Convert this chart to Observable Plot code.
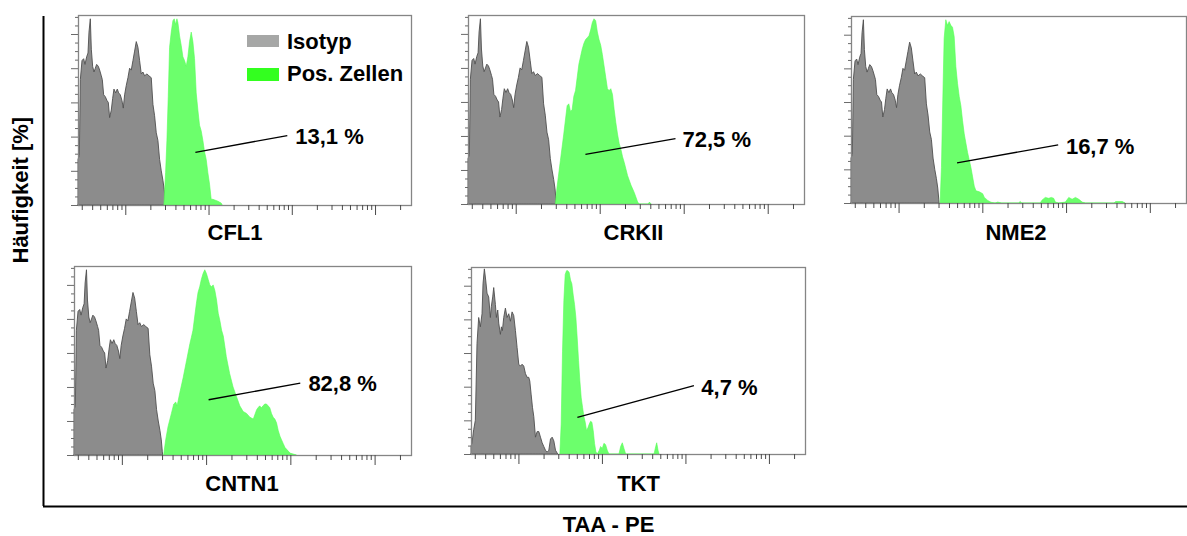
<!DOCTYPE html>
<html><head><meta charset="utf-8">
<script src="https://cdn.jsdelivr.net/npm/d3@7"></script>
<script src="https://cdn.jsdelivr.net/npm/@observablehq/plot@0.6"></script>
<style>
html,body{margin:0;padding:0;background:#fff;}
#root{position:relative;width:1187px;height:536px;overflow:hidden;font-family:"Liberation Sans",Arial,Helvetica,sans-serif;}
.abs{position:absolute;}
.lg{position:absolute;font-size:22px;font-weight:bold;line-height:22px;color:#000;white-space:nowrap;}
</style></head><body><div id="root"></div>
<script>
// ---------- texts ----------
const panelNames = ["CFL1", "CRKII", "NME2", "CNTN1", "TKT"];
const percentLabels = ["13,1 %", "72,5 %", "16,7 %", "82,8 %", "4,7 %"];
const legendLabels = ["Isotyp", "Pos. Zellen"];
const xLabel = "TAA - PE";
const yLabel = "Häufigkeit [%]";

// ---------- histogram outlines: [log channel (0–1000 = 4 decades), relative frequency %] ----------
const isotypA = [[0,0],[0,24],[4,26],[7,66],[12,76],[17,77],[21,74],[26,78],[30,80],[33,91],[37,98],[40,82],[44,73],[48,70],[52,72],[56,74],[61,73],[65,71],[70,68],[73,66],[77,58],[82,57],[87,55],[91,54],[95,46],[100,50],[104,56],[108,61],[113,59],[118,61],[122,59],[127,58],[132,55],[136,51],[140,58],[145,63],[150,67],[155,72],[160,71],[165,76],[170,81],[175,86],[180,83],[185,76],[190,69],[195,70],[200,68],[207,69],[213,68],[220,67],[225,53],[230,47],[235,38],[240,34],[245,24],[250,18],[255,13],[259,8],[262,2],[263,0]];
const isotypTKT = [[0,0],[0,4],[3,6],[8,13],[13,18],[18,59],[23,73],[28,68],[33,75],[36,91],[40,99],[44,93],[48,86],[53,84],[58,73],[61,79],[65,84],[68,89],[73,80],[76,73],[80,77],[83,70],[88,64],[91,68],[94,66],[98,73],[103,78],[108,73],[113,75],[118,71],[123,76],[128,74],[133,66],[138,57],[143,48],[148,47],[153,48],[158,47],[163,43],[168,41],[173,41],[176,39],[180,32],[184,25],[188,20],[193,9],[198,12],[203,12],[208,9],[213,6],[218,4],[223,2],[228,1],[233,2],[238,8],[243,9],[248,7],[253,2],[258,0.5],[260,0]];
const posCFL1 = [[258,0],[263,17],[267,34],[271,57],[275,83],[280,91],[285,97],[289,98],[293,95],[297,98],[300,96],[305,89],[310,84],[315,78],[320,76],[325,73],[330,78],[335,86],[340,91],[345,86],[350,77],[355,59],[360,50],[365,42],[370,39],[375,34],[380,28],[385,24],[390,17],[395,11],[400,3],[405,3],[420,2],[430,1],[433,0]];
const posCRKII = [[260,0],[265,9],[275,23],[285,37],[295,52],[300,53],[305,49],[310,50],[315,57],[320,60],[325,67],[330,74],[335,78],[340,82],[345,85],[350,87],[355,88],[360,89],[365,92],[370,96],[375,98],[380,97],[385,91],[390,87],[395,84],[400,79],[405,73],[410,67],[415,61],[420,60],[425,61],[430,58],[435,50],[440,43],[445,37],[450,32],[455,29],[460,25],[465,22],[475,15],[485,10],[495,6],[505,1],[510,0],[536,0],[540,1],[545,0]];
const posNME2 = [[266,0],[270,19],[274,55],[278,88],[283,98],[288,95],[293,97],[298,95],[303,94],[308,89],[313,73],[318,64],[323,57],[328,52],[333,44],[338,37],[343,32],[348,27],[353,23],[358,19],[363,14],[368,9],[373,6.5],[383,6],[393,5],[398,3],[408,1.4],[418,0.4],[430,0],[438,0.5],[450,0],[500,0],[505,0.8],[510,0],[565,0],[570,1.5],[580,3],[590,2.5],[598,3],[605,2.5],[610,0.5],[620,0],[640,0.5],[650,3],[660,2],[670,3],[680,2],[690,0.5],[700,0],[785,0],[790,0.8],[810,0.8],[818,0]];
const posCNTN1 = [[266,0],[272,8],[279,15],[289,22],[296,27],[302,28],[306,26],[314,33],[324,41],[334,50],[344,59],[348,62],[353,66],[358,73],[363,80],[368,86],[373,89],[378,93],[383,96],[388,98],[393,96],[398,93],[403,90],[408,89],[413,90],[418,87],[423,82],[428,75],[433,71],[438,66],[443,63],[448,57],[452,52],[462,43],[472,36],[482,31],[492,26],[502,23],[512,22],[522,20],[532,19],[542,24],[546,25],[551,26],[556,25],[561,26],[566,27],[571,27],[576,26],[581,25],[586,22],[591,20],[596,19],[601,17],[606,13],[611,10],[616,8],[621,6],[626,4],[631,3],[641,1],[660,0]];
const posTKT = [[266,0],[270,16],[274,55],[278,82],[282,96],[286,98],[290,98],[294,97],[298,93],[302,91],[306,85],[310,80],[314,73],[318,62],[322,50],[326,39],[330,30],[334,25],[338,20],[342,17],[346,12.5],[350,14],[354,16],[358,17.5],[362,17],[366,12.5],[370,5.5],[374,1.2],[378,0],[384,2],[388,4],[393,3],[398,5.7],[403,5],[408,2],[413,0],[443,0],[448,4],[453,6],[458,3],[463,0],[548,0],[553,4],[556,6],[560,2],[563,0]];

const isotypSeries = [isotypA, isotypA, isotypA, isotypA, isotypTKT];
const positiveSeries = [posCFL1, posCRKII, posNME2, posCNTN1, posTKT];

// leader lines and percentage labels: [channel, %]
const leaderFrom = [[351,28],[348,26.5],[315,21.7],[398,29.5],[317,19.9]];
const leaderTo   = [[627,36.8],[616,34.9],[617,31.4],[670,38.3],[666,36.8]];
const labelAt    = [[651,36],[637,34],[640,30.5],[694,37.6],[688,35.8]];

// axis tick values (intensity, log scale)
const xMinorValues = [0.3,0.4,0.5,0.6,0.7,0.8,0.9,2,3,4,5,6,7,8,9,20,30,40,50,60,70,80,90,200,300,400,500,600,700,800,900,2000];
const xMajorValues = [1,10,100,1000];
const yMinorTicks = [4.5,9,13.5,22.5,27,31.5,40.5,45,49.5,58.5,63,67.5,76.5,81,85.5,94.5,99];
const yMajorTicks = [0,18,36,54,72,90];

// channel of an intensity value (250 channels per decade, 10^0 at channel 142)
const channelOf = v => 142 + 250 * Math.log10(v);
const xMinorCh = xMinorValues.map(channelOf);
const xMajorCh = xMajorValues.map(channelOf);

// ---------- layout ----------
const FONT = '"Liberation Sans", Arial, Helvetica, sans-serif';
const layout = [
  {left: 78,  top: 15,  w: 333, h: 190, nameDx: -10, nameDy: 34},
  {left: 468, top: 15,  w: 336, h: 189, nameDx: -3,  nameDy: 35},
  {left: 851, top: 16,  w: 335, h: 187, nameDx: -3,  nameDy: 36},
  {left: 74,  top: 266, w: 337, h: 189, nameDx: -1,  nameDy: 35},
  {left: 471, top: 267, w: 334, h: 187, nameDx: 0,   nameDy: 36}
];

const root = document.getElementById("root");

// outer axes frame
const outer = Plot.plot({
  width: 1187, height: 536,
  marginLeft: 43, marginRight: 0, marginTop: 16, marginBottom: 30,
  x: {domain: [0, 1], axis: null},
  y: {domain: [0, 1], axis: null},
  style: {background: "#fff", fontFamily: FONT},
  marks: [
    Plot.ruleX([0], {stroke: "#000", strokeWidth: 2}),
    Plot.ruleY([0], {stroke: "#000", strokeWidth: 2}),
    Plot.text([yLabel], {text: d => d, frameAnchor: "left", rotate: -90, dx: -23, dy: 2, lineAnchor: "middle", fontSize: 22, fontWeight: "bold", fill: "#000"}),
    Plot.text([xLabel], {text: d => d, frameAnchor: "bottom", dx: -7, dy: 25, lineAnchor: "bottom", fontSize: 22, fontWeight: "bold", fill: "#000"})
  ]
});
outer.style.position = "absolute"; outer.style.left = "0px"; outer.style.top = "0px";
root.appendChild(outer);

const px = d => d[0], py = d => d[1];
panelNames.forEach((name, i) => {
  const L = layout[i];
  const mL = 10, mR = 1, mT = 1, mB = 42;
  const svg = Plot.plot({
    width: L.w + mL + mR, height: L.h + mT + mB,
    marginLeft: mL, marginRight: mR, marginTop: mT, marginBottom: mB,
    x: {domain: [0, 1000], label: null},
    y: {domain: [0, 100], label: null},
    style: {background: "transparent", overflow: "visible", fontFamily: FONT},
    marks: [
      Plot.areaY(isotypSeries[i], {x: px, y: py, fill: "#8c8c8c", stroke: "#4f4f4f", strokeWidth: 0.9}),
      Plot.areaY(positiveSeries[i], {x: px, y: py, fill: "#6cff6c", stroke: "#55ff55", strokeWidth: 0.6}),
      Plot.frame({stroke: "#858585", strokeWidth: 1.3}),
      Plot.axisX({ticks: xMinorCh, tickSize: 5, tickFormat: () => "", stroke: "#4a4a4a", label: null}),
      Plot.axisX({ticks: xMajorCh, tickSize: 10, tickFormat: () => "", stroke: "#4a4a4a", label: null}),
      Plot.axisY({ticks: yMinorTicks, tickSize: 3, tickFormat: () => "", stroke: "#6a6a6a", label: null}),
      Plot.axisY({ticks: yMajorTicks, tickSize: 7, tickFormat: () => "", stroke: "#6a6a6a", label: null}),
      Plot.link([{a: leaderFrom[i], b: leaderTo[i]}], {x1: d => d.a[0], y1: d => d.a[1], x2: d => d.b[0], y2: d => d.b[1], stroke: "#000", strokeWidth: 1.3}),
      Plot.text([{p: labelAt[i], t: percentLabels[i]}], {x: d => d.p[0], y: d => d.p[1], text: d => d.t, textAnchor: "start", lineAnchor: "middle", fontSize: 22, fontWeight: "bold", fill: "#000"}),
      Plot.text([name], {text: d => d, frameAnchor: "bottom", dx: L.nameDx, dy: L.nameDy, lineAnchor: "bottom", fontSize: 22, fontWeight: "bold", fill: "#000"})
    ]
  });
  svg.style.position = "absolute";
  svg.style.left = (L.left - mL) + "px";
  svg.style.top = (L.top - mT) + "px";
  root.appendChild(svg);
});

// legend (inside first panel)
const legendColors = ["#a6a7a6", "#33ff1f"];
const legendRows = [{sw: 35, swH: 12, txt: 30.7}, {sw: 68, swH: 13, txt: 63.1}];
legendLabels.forEach((lab, i) => {
  const sw = document.createElement("div");
  sw.className = "abs";
  Object.assign(sw.style, {left: "247px", top: legendRows[i].sw + "px", width: "32px", height: legendRows[i].swH + "px", background: legendColors[i]});
  root.appendChild(sw);
  const t = document.createElement("div");
  t.className = "lg";
  t.textContent = lab;
  Object.assign(t.style, {left: "287px", top: legendRows[i].txt + "px"});
  root.appendChild(t);
});
</script>
</body></html>
